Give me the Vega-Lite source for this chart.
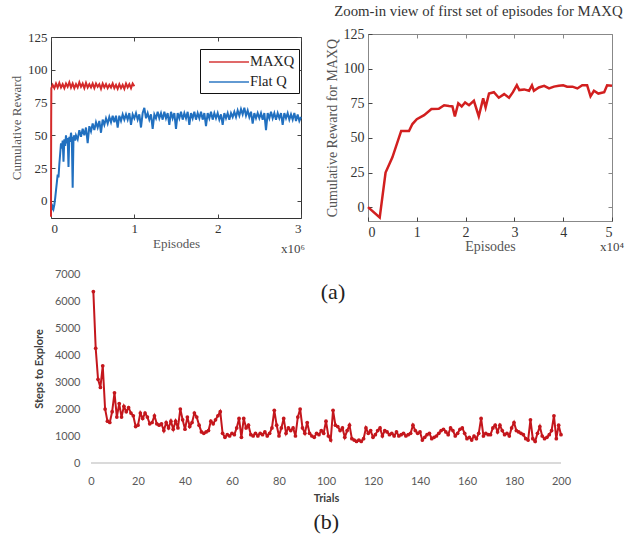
{
"$schema": "https://vega.github.io/schema/vega-lite/v6.json",
"padding": {"left": 10, "top": 3, "right": 5, "bottom": 5},
"background": "white",
"config": {
  "axis": {"grid": false, "labelFont": "Liberation Serif", "titleFont": "Liberation Serif", "labelFontSize": 13, "titleFontSize": 13, "titleFontWeight": "normal", "labelColor": "#333", "titleColor": "#555", "domain": false, "tickColor": "#444", "tickSize": -4},
  "title": {"font": "Liberation Serif", "fontWeight": "normal", "color": "#333"}
},
"datasets": {
  "p1": [
    {"series":"Flat Q","ep":0,"r":-5},{"series":"Flat Q","ep":0.01,"r":-6},{"series":"Flat Q","ep":0.02,"r":-4},{"series":"Flat Q","ep":0.03,"r":-6},{"series":"Flat Q","ep":0.04,"r":-3},{"series":"Flat Q","ep":0.05,"r":2},{"series":"Flat Q","ep":0.06,"r":8},{"series":"Flat Q","ep":0.07,"r":14},{"series":"Flat Q","ep":0.08,"r":20},{"series":"Flat Q","ep":0.09,"r":18},{"series":"Flat Q","ep":0.10,"r":28},{"series":"Flat Q","ep":0.11,"r":36},{"series":"Flat Q","ep":0.12,"r":44},{"series":"Flat Q","ep":0.13,"r":40},{"series":"Flat Q","ep":0.14,"r":46},{"series":"Flat Q","ep":0.15,"r":30},{"series":"Flat Q","ep":0.16,"r":47},{"series":"Flat Q","ep":0.17,"r":42},{"series":"Flat Q","ep":0.18,"r":50},{"series":"Flat Q","ep":0.19,"r":44},{"series":"Flat Q","ep":0.20,"r":48},{"series":"Flat Q","ep":0.21,"r":26},{"series":"Flat Q","ep":0.22,"r":49},{"series":"Flat Q","ep":0.23,"r":45},{"series":"Flat Q","ep":0.24,"r":52},{"series":"Flat Q","ep":0.25,"r":47},{"series":"Flat Q","ep":0.26,"r":10},{"series":"Flat Q","ep":0.27,"r":48},{"series":"Flat Q","ep":0.28,"r":50},{"series":"Flat Q","ep":0.29,"r":46},
    {"series":"Flat Q","ep":0.30,"r":50},{"series":"Flat Q","ep":0.32,"r":47},{"series":"Flat Q","ep":0.34,"r":54},{"series":"Flat Q","ep":0.36,"r":49},{"series":"Flat Q","ep":0.38,"r":55},{"series":"Flat Q","ep":0.40,"r":50},{"series":"Flat Q","ep":0.42,"r":56},{"series":"Flat Q","ep":0.44,"r":44},{"series":"Flat Q","ep":0.46,"r":57},{"series":"Flat Q","ep":0.48,"r":53},{"series":"Flat Q","ep":0.50,"r":59},{"series":"Flat Q","ep":0.52,"r":54},{"series":"Flat Q","ep":0.54,"r":60},{"series":"Flat Q","ep":0.56,"r":56},{"series":"Flat Q","ep":0.58,"r":61},{"series":"Flat Q","ep":0.60,"r":52},{"series":"Flat Q","ep":0.62,"r":62},{"series":"Flat Q","ep":0.64,"r":58},{"series":"Flat Q","ep":0.66,"r":63},{"series":"Flat Q","ep":0.68,"r":59},{"series":"Flat Q","ep":0.70,"r":64},{"series":"Flat Q","ep":0.72,"r":60},{"series":"Flat Q","ep":0.74,"r":65},{"series":"Flat Q","ep":0.76,"r":60},{"series":"Flat Q","ep":0.78,"r":65},{"series":"Flat Q","ep":0.80,"r":56},{"series":"Flat Q","ep":0.82,"r":65},{"series":"Flat Q","ep":0.84,"r":61},{"series":"Flat Q","ep":0.86,"r":66},{"series":"Flat Q","ep":0.88,"r":62},{"series":"Flat Q","ep":0.90,"r":66},{"series":"Flat Q","ep":0.92,"r":62},{"series":"Flat Q","ep":0.94,"r":67},{"series":"Flat Q","ep":0.96,"r":58},{"series":"Flat Q","ep":0.98,"r":66},{"series":"Flat Q","ep":1.00,"r":63},
    {"series":"Flat Q","ep":1.02,"r":67},{"series":"Flat Q","ep":1.04,"r":62},{"series":"Flat Q","ep":1.06,"r":66},{"series":"Flat Q","ep":1.08,"r":56},{"series":"Flat Q","ep":1.10,"r":67},{"series":"Flat Q","ep":1.12,"r":71},{"series":"Flat Q","ep":1.14,"r":63},{"series":"Flat Q","ep":1.16,"r":67},{"series":"Flat Q","ep":1.18,"r":62},{"series":"Flat Q","ep":1.20,"r":66},{"series":"Flat Q","ep":1.22,"r":55},{"series":"Flat Q","ep":1.24,"r":66},{"series":"Flat Q","ep":1.26,"r":63},{"series":"Flat Q","ep":1.28,"r":68},{"series":"Flat Q","ep":1.30,"r":63},{"series":"Flat Q","ep":1.32,"r":67},{"series":"Flat Q","ep":1.34,"r":62},{"series":"Flat Q","ep":1.36,"r":68},{"series":"Flat Q","ep":1.38,"r":63},{"series":"Flat Q","ep":1.40,"r":67},{"series":"Flat Q","ep":1.42,"r":58},{"series":"Flat Q","ep":1.44,"r":68},{"series":"Flat Q","ep":1.46,"r":63},{"series":"Flat Q","ep":1.48,"r":67},{"series":"Flat Q","ep":1.50,"r":55},{"series":"Flat Q","ep":1.52,"r":67},{"series":"Flat Q","ep":1.54,"r":63},{"series":"Flat Q","ep":1.56,"r":68},{"series":"Flat Q","ep":1.58,"r":62},{"series":"Flat Q","ep":1.60,"r":67},{"series":"Flat Q","ep":1.62,"r":63},{"series":"Flat Q","ep":1.64,"r":68},{"series":"Flat Q","ep":1.66,"r":58},{"series":"Flat Q","ep":1.68,"r":67},{"series":"Flat Q","ep":1.70,"r":63},{"series":"Flat Q","ep":1.72,"r":68},{"series":"Flat Q","ep":1.74,"r":62},{"series":"Flat Q","ep":1.76,"r":67},{"series":"Flat Q","ep":1.78,"r":63},{"series":"Flat Q","ep":1.80,"r":68},{"series":"Flat Q","ep":1.82,"r":62},{"series":"Flat Q","ep":1.84,"r":67},{"series":"Flat Q","ep":1.86,"r":57},{"series":"Flat Q","ep":1.88,"r":67},{"series":"Flat Q","ep":1.90,"r":63},{"series":"Flat Q","ep":1.92,"r":68},{"series":"Flat Q","ep":1.94,"r":62},{"series":"Flat Q","ep":1.96,"r":67},{"series":"Flat Q","ep":1.98,"r":63},{"series":"Flat Q","ep":2.00,"r":67},
    {"series":"Flat Q","ep":2.02,"r":62},{"series":"Flat Q","ep":2.04,"r":66},{"series":"Flat Q","ep":2.06,"r":58},{"series":"Flat Q","ep":2.08,"r":67},{"series":"Flat Q","ep":2.10,"r":63},{"series":"Flat Q","ep":2.12,"r":67},{"series":"Flat Q","ep":2.14,"r":62},{"series":"Flat Q","ep":2.16,"r":67},{"series":"Flat Q","ep":2.18,"r":64},{"series":"Flat Q","ep":2.20,"r":68},{"series":"Flat Q","ep":2.22,"r":64},{"series":"Flat Q","ep":2.24,"r":69},{"series":"Flat Q","ep":2.26,"r":65},{"series":"Flat Q","ep":2.28,"r":70},{"series":"Flat Q","ep":2.30,"r":66},{"series":"Flat Q","ep":2.32,"r":71},{"series":"Flat Q","ep":2.34,"r":65},{"series":"Flat Q","ep":2.36,"r":69},{"series":"Flat Q","ep":2.38,"r":64},{"series":"Flat Q","ep":2.40,"r":68},{"series":"Flat Q","ep":2.42,"r":59},{"series":"Flat Q","ep":2.44,"r":67},{"series":"Flat Q","ep":2.46,"r":63},{"series":"Flat Q","ep":2.48,"r":67},{"series":"Flat Q","ep":2.50,"r":63},{"series":"Flat Q","ep":2.52,"r":67},{"series":"Flat Q","ep":2.54,"r":62},{"series":"Flat Q","ep":2.56,"r":67},{"series":"Flat Q","ep":2.58,"r":54},{"series":"Flat Q","ep":2.60,"r":67},{"series":"Flat Q","ep":2.62,"r":63},{"series":"Flat Q","ep":2.64,"r":68},{"series":"Flat Q","ep":2.66,"r":63},{"series":"Flat Q","ep":2.68,"r":67},{"series":"Flat Q","ep":2.70,"r":62},{"series":"Flat Q","ep":2.72,"r":67},{"series":"Flat Q","ep":2.74,"r":63},{"series":"Flat Q","ep":2.76,"r":67},{"series":"Flat Q","ep":2.78,"r":58},{"series":"Flat Q","ep":2.80,"r":67},{"series":"Flat Q","ep":2.82,"r":63},{"series":"Flat Q","ep":2.84,"r":67},{"series":"Flat Q","ep":2.86,"r":62},{"series":"Flat Q","ep":2.88,"r":66},{"series":"Flat Q","ep":2.90,"r":62},{"series":"Flat Q","ep":2.92,"r":67},{"series":"Flat Q","ep":2.94,"r":61},{"series":"Flat Q","ep":2.96,"r":66},{"series":"Flat Q","ep":2.98,"r":61},{"series":"Flat Q","ep":3.00,"r":64},
    {"series":"MAXQ","ep":0,"r":-12},{"series":"MAXQ","ep":0.002,"r":60},{"series":"MAXQ","ep":0.004,"r":86},{"series":"MAXQ","ep":0.02,"r":88.5},{"series":"MAXQ","ep":0.04,"r":86},{"series":"MAXQ","ep":0.06,"r":89.5},{"series":"MAXQ","ep":0.08,"r":86.5},{"series":"MAXQ","ep":0.10,"r":90},{"series":"MAXQ","ep":0.12,"r":86.5},{"series":"MAXQ","ep":0.14,"r":89},{"series":"MAXQ","ep":0.16,"r":86},{"series":"MAXQ","ep":0.18,"r":89.5},{"series":"MAXQ","ep":0.20,"r":87},{"series":"MAXQ","ep":0.22,"r":90.5},{"series":"MAXQ","ep":0.24,"r":86.5},{"series":"MAXQ","ep":0.26,"r":89.5},{"series":"MAXQ","ep":0.28,"r":86},{"series":"MAXQ","ep":0.30,"r":89},{"series":"MAXQ","ep":0.32,"r":86.5},{"series":"MAXQ","ep":0.34,"r":90.5},{"series":"MAXQ","ep":0.36,"r":87},{"series":"MAXQ","ep":0.38,"r":89.5},{"series":"MAXQ","ep":0.40,"r":86},{"series":"MAXQ","ep":0.42,"r":90},{"series":"MAXQ","ep":0.44,"r":86.5},{"series":"MAXQ","ep":0.46,"r":89},{"series":"MAXQ","ep":0.48,"r":86.5},{"series":"MAXQ","ep":0.50,"r":89.5},{"series":"MAXQ","ep":0.52,"r":86},{"series":"MAXQ","ep":0.54,"r":89.5},{"series":"MAXQ","ep":0.56,"r":87},{"series":"MAXQ","ep":0.58,"r":89},{"series":"MAXQ","ep":0.60,"r":85.5},{"series":"MAXQ","ep":0.62,"r":89.5},{"series":"MAXQ","ep":0.64,"r":86.5},{"series":"MAXQ","ep":0.66,"r":89},{"series":"MAXQ","ep":0.68,"r":86},{"series":"MAXQ","ep":0.70,"r":88.5},{"series":"MAXQ","ep":0.72,"r":86.5},{"series":"MAXQ","ep":0.74,"r":89.5},{"series":"MAXQ","ep":0.76,"r":86},{"series":"MAXQ","ep":0.78,"r":88.5},{"series":"MAXQ","ep":0.80,"r":85.5},{"series":"MAXQ","ep":0.82,"r":89},{"series":"MAXQ","ep":0.84,"r":86},{"series":"MAXQ","ep":0.86,"r":88.5},{"series":"MAXQ","ep":0.88,"r":85.5},{"series":"MAXQ","ep":0.90,"r":89.5},{"series":"MAXQ","ep":0.92,"r":86.5},{"series":"MAXQ","ep":0.94,"r":89},{"series":"MAXQ","ep":0.96,"r":86},{"series":"MAXQ","ep":0.98,"r":89.5},{"series":"MAXQ","ep":1.00,"r":87.5}
  ],
  "p2": [
    {"ep":0,"r":0},{"ep":0.24,"r":-7.5},{"ep":0.36,"r":25},{"ep":0.5,"r":36},{"ep":0.68,"r":55},{"ep":0.84,"r":55},{"ep":0.91,"r":60},{"ep":1.0,"r":63.5},{"ep":1.15,"r":66.4},{"ep":1.3,"r":70.8},{"ep":1.45,"r":71},{"ep":1.56,"r":73.6},{"ep":1.66,"r":73},{"ep":1.73,"r":72.7},{"ep":1.78,"r":65.5},{"ep":1.85,"r":75},{"ep":1.92,"r":72.7},{"ep":1.99,"r":75.6},{"ep":2.07,"r":73.6},{"ep":2.17,"r":76.8},{"ep":2.27,"r":65.5},{"ep":2.36,"r":78.5},{"ep":2.41,"r":72},{"ep":2.48,"r":82},{"ep":2.58,"r":83},{"ep":2.68,"r":79},{"ep":2.79,"r":81.6},{"ep":2.89,"r":79},{"ep":2.97,"r":83},{"ep":3.05,"r":88},{"ep":3.1,"r":84.5},{"ep":3.2,"r":85},{"ep":3.3,"r":84},{"ep":3.36,"r":88},{"ep":3.4,"r":84},{"ep":3.5,"r":86.4},{"ep":3.61,"r":87.6},{"ep":3.71,"r":85.7},{"ep":3.81,"r":87},{"ep":3.91,"r":87.6},{"ep":4.0,"r":88},{"ep":4.08,"r":87},{"ep":4.19,"r":87},{"ep":4.29,"r":85.7},{"ep":4.39,"r":88},{"ep":4.49,"r":88},{"ep":4.56,"r":80},{"ep":4.63,"r":84},{"ep":4.72,"r":82},{"ep":4.84,"r":83},{"ep":4.9,"r":88},{"ep":5.0,"r":87.6}
  ],
  "p3": [
    {"t":1,"s":6350},{"t":2,"s":4250},{"t":3,"s":3100},{"t":4,"s":2800},{"t":5,"s":3600},{"t":6,"s":2000},{"t":7,"s":1550},{"t":8,"s":1500},{"t":9,"s":1900},{"t":10,"s":2600},
    {"t":11,"s":1700},{"t":12,"s":2200},{"t":13,"s":1700},{"t":14,"s":2100},{"t":15,"s":1900},{"t":16,"s":2050},{"t":17,"s":1850},{"t":18,"s":1750},{"t":19,"s":1350},{"t":20,"s":1400},
    {"t":21,"s":1850},{"t":22,"s":1650},{"t":23,"s":1850},{"t":24,"s":1700},{"t":25,"s":1450},{"t":26,"s":1500},{"t":27,"s":1750},{"t":28,"s":1450},{"t":29,"s":1400},{"t":30,"s":1450},
    {"t":31,"s":1200},{"t":32,"s":1500},{"t":33,"s":1300},{"t":34,"s":1550},{"t":35,"s":1250},{"t":36,"s":1550},{"t":37,"s":1300},{"t":38,"s":2000},{"t":39,"s":1600},{"t":40,"s":1250},
    {"t":41,"s":1700},{"t":42,"s":1350},{"t":43,"s":1500},{"t":44,"s":1850},{"t":45,"s":1700},{"t":46,"s":1400},{"t":47,"s":1150},{"t":48,"s":1100},{"t":49,"s":1150},{"t":50,"s":1200},
    {"t":51,"s":1550},{"t":52,"s":1450},{"t":53,"s":1600},{"t":54,"s":1750},{"t":55,"s":1900},{"t":56,"s":1100},{"t":57,"s":950},{"t":58,"s":1050},{"t":59,"s":1000},{"t":60,"s":1100},
    {"t":61,"s":1050},{"t":62,"s":1300},{"t":63,"s":1650},{"t":64,"s":950},{"t":65,"s":1650},{"t":66,"s":1300},{"t":67,"s":1400},{"t":68,"s":1050},{"t":69,"s":1000},{"t":70,"s":1100},
    {"t":71,"s":1000},{"t":72,"s":1100},{"t":73,"s":1050},{"t":74,"s":1150},{"t":75,"s":1000},{"t":76,"s":1100},{"t":77,"s":1300},{"t":78,"s":1950},{"t":79,"s":1400},{"t":80,"s":1000},
    {"t":81,"s":1300},{"t":82,"s":1650},{"t":83,"s":1100},{"t":84,"s":1300},{"t":85,"s":1200},{"t":86,"s":1300},{"t":87,"s":1000},{"t":88,"s":1700},{"t":89,"s":2000},{"t":90,"s":1300},
    {"t":91,"s":1100},{"t":92,"s":1500},{"t":93,"s":1100},{"t":94,"s":1000},{"t":95,"s":950},{"t":96,"s":1100},{"t":97,"s":1050},{"t":98,"s":1200},{"t":99,"s":1100},{"t":100,"s":1550},
    {"t":101,"s":1000},{"t":102,"s":850},{"t":103,"s":1950},{"t":104,"s":1400},{"t":105,"s":1350},{"t":106,"s":1200},{"t":107,"s":1300},{"t":108,"s":950},{"t":109,"s":1200},{"t":110,"s":1400},
    {"t":111,"s":900},{"t":112,"s":850},{"t":113,"s":800},{"t":114,"s":850},{"t":115,"s":800},{"t":116,"s":900},{"t":117,"s":1300},{"t":118,"s":1100},{"t":119,"s":1200},{"t":120,"s":950},
    {"t":121,"s":1050},{"t":122,"s":1200},{"t":123,"s":1300},{"t":124,"s":1000},{"t":125,"s":1200},{"t":126,"s":1150},{"t":127,"s":1050},{"t":128,"s":1100},{"t":129,"s":1000},{"t":130,"s":1150},
    {"t":131,"s":1000},{"t":132,"s":1050},{"t":133,"s":1100},{"t":134,"s":1000},{"t":135,"s":1050},{"t":136,"s":1100},{"t":137,"s":1400},{"t":138,"s":1200},{"t":139,"s":1100},{"t":140,"s":1150},
    {"t":141,"s":850},{"t":142,"s":950},{"t":143,"s":1050},{"t":144,"s":1100},{"t":145,"s":900},{"t":146,"s":950},{"t":147,"s":1000},{"t":148,"s":1100},{"t":149,"s":1200},{"t":150,"s":1250},
    {"t":151,"s":1150},{"t":152,"s":1050},{"t":153,"s":1300},{"t":154,"s":1200},{"t":155,"s":1000},{"t":156,"s":1100},{"t":157,"s":1250},{"t":158,"s":1300},{"t":159,"s":1100},{"t":160,"s":900},
    {"t":161,"s":950},{"t":162,"s":850},{"t":163,"s":1000},{"t":164,"s":900},{"t":165,"s":1100},{"t":166,"s":1650},{"t":167,"s":1000},{"t":168,"s":1100},{"t":169,"s":1050},{"t":170,"s":1050},
    {"t":171,"s":1300},{"t":172,"s":1400},{"t":173,"s":1150},{"t":174,"s":1400},{"t":175,"s":1200},{"t":176,"s":1050},{"t":177,"s":1100},{"t":178,"s":1000},{"t":179,"s":1300},{"t":180,"s":1500},
    {"t":181,"s":1200},{"t":182,"s":1150},{"t":183,"s":1100},{"t":184,"s":1050},{"t":185,"s":900},{"t":186,"s":850},{"t":187,"s":1600},{"t":188,"s":900},{"t":189,"s":800},{"t":190,"s":1100},
    {"t":191,"s":1350},{"t":192,"s":1000},{"t":193,"s":900},{"t":194,"s":950},{"t":195,"s":1050},{"t":196,"s":1200},{"t":197,"s":1750},{"t":198,"s":900},{"t":199,"s":1400},{"t":200,"s":1050}
  ]
},
"title": {"text": "(b)", "orient": "bottom", "anchor": "middle", "fontSize": 22, "color": "#222", "offset": 9, "dx": 9},
"spacing": 11,
"vconcat": [
  {
    "spacing": 18,
    "hconcat": [
      {
        "spacing": -5,
        "vconcat": [
          {"width": 10, "height": 1, "data": {"values": []}, "mark": {"type": "point", "opacity": 0}, "view": {"stroke": null}},
          {
            "width": 250, "height": 181,
            "data": {"name": "p1"},
            "view": {"stroke": "#333", "strokeWidth": 1},
            "title": {"text": "x10⁶", "orient": "bottom", "anchor": "end", "fontSize": 13, "color": "#444", "offset": 0, "dy": -7},
            "layer": [
              {
                "mark": {"type": "line", "strokeWidth": 2},
                "encoding": {
                  "x": {"field": "ep", "type": "quantitative", "scale": {"domain": [0, 3], "nice": false}, "axis": {"values": [0, 1, 2, 3], "title": "Episodes", "labelPadding": 8, "titlePadding": 2}},
                  "y": {"field": "r", "type": "quantitative", "scale": {"domain": [-13, 125], "nice": false, "zero": false}, "axis": {"values": [0, 25, 50, 75, 100, 125], "title": "Cumulative Reward", "labelPadding": 8, "titlePadding": 4}},
                  "color": {"field": "series", "type": "nominal", "scale": {"domain": ["MAXQ", "Flat Q"], "range": ["#d42a2a", "#2170c0"]},
                    "legend": {"orient": "none", "legendX": 149, "legendY": 15, "title": null, "fillColor": "white", "strokeColor": "#111", "padding": 4, "symbolType": "M-0.5,0H4.5", "symbolSize": 256, "symbolStrokeWidth": 2, "symbolOpacity": 0.7, "labelFont": "Liberation Serif", "labelFontSize": 14.5, "labelColor": "#222", "rowPadding": 4, "labelOffset": 28}}
                }
              },
              {
                "mark": {"type": "line", "opacity": 0},
                "encoding": {
                  "x": {"field": "ep", "type": "quantitative", "scale": {"domain": [0, 3], "nice": false}, "axis": {"orient": "top", "values": [0, 1, 2, 3], "labels": false, "title": null}},
                  "y": {"field": "r", "type": "quantitative", "scale": {"domain": [-13, 125], "nice": false, "zero": false}, "axis": {"orient": "right", "values": [0, 25, 50, 75, 100, 125], "labels": false, "title": null}}
                }
              }
            ],
            "resolve": {"axis": {"x": "independent", "y": "independent"}}
          }
        ]
      },
      {
        "title": {"text": "Zoom-in view of first set of episodes for MAXQ", "fontSize": 14.8, "anchor": "middle", "offset": 8, "dx": 4},
        "vconcat": [
          {
            "width": 244, "height": 187,
            "data": {"name": "p2"},
            "view": {"stroke": "#888", "strokeWidth": 1},
            "title": {"text": "x10⁴", "orient": "bottom", "anchor": "end", "fontSize": 13, "color": "#444", "offset": 0, "dy": -12, "dx": 7},
            "layer": [
              {
                "mark": {"type": "line", "strokeWidth": 2.5, "color": "#d21f1f"},
                "encoding": {
                  "x": {"field": "ep", "type": "quantitative", "scale": {"domain": [0, 5], "nice": false}, "axis": {"values": [0, 1, 2, 3, 4, 5], "title": "Episodes", "labelFontSize": 14, "titleFontSize": 14, "labelPadding": 8, "titlePadding": 0}},
                  "y": {"field": "r", "type": "quantitative", "scale": {"domain": [-10, 125], "nice": false, "zero": false}, "axis": {"values": [0, 25, 50, 75, 100, 125], "title": "Cumulative Reward for MAXQ", "labelFontSize": 14, "titleFontSize": 14, "labelPadding": 8, "titlePadding": 4}}
                }
              },
              {
                "mark": {"type": "line", "opacity": 0},
                "encoding": {
                  "x": {"field": "ep", "type": "quantitative", "scale": {"domain": [0, 5], "nice": false}, "axis": {"orient": "top", "values": [0, 1, 2, 3, 4, 5], "labels": false, "title": null, "tickColor": "#888"}},
                  "y": {"field": "r", "type": "quantitative", "scale": {"domain": [-10, 125], "nice": false, "zero": false}, "axis": {"orient": "right", "values": [0, 25, 50, 75, 100, 125], "labels": false, "title": null, "tickColor": "#888"}}
                }
              }
            ],
            "resolve": {"axis": {"x": "independent", "y": "independent"}}
          }
        ]
      }
    ]
  },
  {
    "width": 510, "height": 189,
    "data": {"name": "p3"},
    "view": {"stroke": null},
    "title": {"text": "(a)", "fontSize": 22, "color": "#222", "anchor": "middle", "dx": 27, "dy": 40},
    "layer": [
      {
        "mark": {"type": "rule", "color": "#d9d9d9", "strokeWidth": 1.2},
        "encoding": {
          "x": {"datum": 0, "type": "quantitative", "scale": {"domain": [-17.02, 200], "nice": false, "zero": false},
            "axis": {"values": [0, 20, 40, 60, 80, 100, 120, 140, 160, 180, 200], "title": "Trials", "ticks": false, "labelFlush": false, "labelOverlap": false, "labelFont": "Lato", "titleFont": "Lato", "labelFontSize": 11, "titleFontSize": 11, "titleFontWeight": "bold", "labelColor": "#595959", "titleColor": "#404040", "labelPadding": 12, "titlePadding": 6, "titleX": 275}},
          "x2": {"datum": 200},
          "y": {"datum": 0, "type": "quantitative", "scale": {"domain": [0, 7000], "nice": false},
            "axis": {"values": [0, 1000, 2000, 3000, 4000, 5000, 6000, 7000], "format": "d", "title": "Steps to Explore", "ticks": false, "offset": -40, "labelOverlap": false, "labelFont": "Lato", "titleFont": "Lato", "labelFontSize": 11, "titleFontSize": 11, "titleFontWeight": "bold", "labelColor": "#595959", "titleColor": "#404040", "labelPadding": 11, "titlePadding": 10}}
        }
      },
      {
        "mark": {"type": "line", "color": "#c4161c", "strokeWidth": 2, "point": {"filled": true, "size": 14, "color": "#c4161c"}},
        "encoding": {
          "x": {"field": "t", "type": "quantitative", "scale": {"domain": [-17.02, 200], "nice": false, "zero": false},
            "axis": {"values": [0, 20, 40, 60, 80, 100, 120, 140, 160, 180, 200], "title": "Trials", "ticks": false, "labelFlush": false, "labelOverlap": false, "labelFont": "Lato", "titleFont": "Lato", "labelFontSize": 11, "titleFontSize": 11, "titleFontWeight": "bold", "labelColor": "#595959", "titleColor": "#404040", "labelPadding": 12, "titlePadding": 6, "titleX": 275}},
          "y": {"field": "s", "type": "quantitative", "scale": {"domain": [0, 7000], "nice": false},
            "axis": {"values": [0, 1000, 2000, 3000, 4000, 5000, 6000, 7000], "format": "d", "title": "Steps to Explore", "ticks": false, "offset": -40, "labelOverlap": false, "labelFont": "Lato", "titleFont": "Lato", "labelFontSize": 11, "titleFontSize": 11, "titleFontWeight": "bold", "labelColor": "#595959", "titleColor": "#404040", "labelPadding": 11, "titlePadding": 10}}
        }
      }
    ]
  }
]
}
